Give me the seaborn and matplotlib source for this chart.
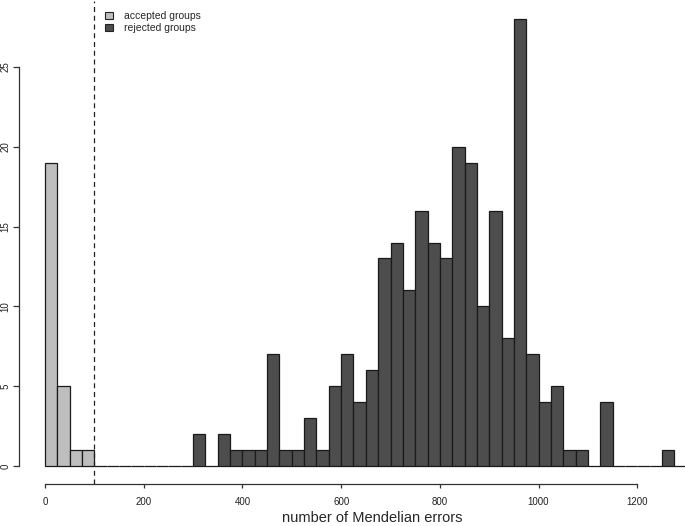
import numpy as np
import pandas as pd
import seaborn as sns
import matplotlib.pyplot as plt
from matplotlib.patches import Patch

# histogram bins of width 25 (left edges), counts
bin_width = 25
accepted_left = [0, 25, 50, 75]
accepted_counts = [19, 5, 1, 1]

rejected_left = [100, 125, 150, 175, 200, 225, 250, 275,
                 300, 325, 350, 375, 400, 425, 450, 475, 500, 525, 550, 575,
                 600, 625, 650, 675, 700, 725, 750, 775, 800, 825, 850, 875,
                 900, 925, 950, 975, 1000, 1025, 1050, 1075, 1100, 1125, 1150,
                 1175, 1200, 1225, 1250, 1275, 1300]
rejected_counts = [0, 0, 0, 0, 0, 0, 0, 0,
                   2, 0, 2, 1, 1, 1, 7, 1, 1, 3, 1, 5,
                   7, 4, 6, 13, 14, 11, 16, 14, 13, 20, 19, 10,
                   16, 8, 28, 7, 4, 5, 1, 1, 0, 4, 0,
                   0, 0, 0, 1, 0, 0]

threshold = 100
xticks = [0, 200, 400, 600, 800, 1000, 1200]
yticks = [0, 5, 10, 15, 20, 25]

sns.set_theme(style="ticks")
plt.rcParams['font.family'] = ['Liberation Sans', 'DejaVu Sans']

fig = plt.figure(figsize=(6.85, 5.26), dpi=100)
ax = fig.add_axes([19/685, 42/526, 706/685, 483/526])

acc = pd.DataFrame({"x": np.array(accepted_left) + bin_width/2, "n": accepted_counts})
rej = pd.DataFrame({"x": np.array(rejected_left) + bin_width/2, "n": rejected_counts})

acc_edges = accepted_left + [accepted_left[-1] + bin_width]
rej_edges = rejected_left + [rejected_left[-1] + bin_width]

sns.histplot(data=acc, x="x", weights="n", bins=acc_edges, color="#bebebe",
             alpha=1, edgecolor="#1a1a1a", linewidth=0.9, ax=ax)
sns.histplot(data=rej, x="x", weights="n", bins=rej_edges, color="#4d4d4d",
             alpha=1, edgecolor="#1a1a1a", linewidth=0.9, ax=ax)

ax.axvline(threshold, color="#222222", lw=0.9, ls=(0, (4, 3)))

ax.set_xlim(-53, 1378)
ax.set_ylim(-1.12, 29.12)
sns.despine(ax=ax)
ax.spines['left'].set_bounds(0, 25)
ax.spines['bottom'].set_bounds(0, 1200)
for s in ['left', 'bottom']:
    ax.spines[s].set_color("#333333")
    ax.spines[s].set_linewidth(0.9)

ax.set_xticks(xticks)
ax.set_yticks(yticks)
ax.set_yticklabels([str(v) for v in yticks], rotation=90, va="center")
ax.tick_params(axis="both", labelsize=7, width=0.9, color="#333333",
               labelcolor="#222222")
ax.tick_params(axis="x", length=3, pad=6.5)
ax.tick_params(axis="y", length=4.0, pad=2.3)
ax.set_xlabel("number of Mendelian errors", fontsize=10.5, va="top")
ax.xaxis.set_label_coords(0.5, -27/483)
ax.set_ylabel("")

handles = [Patch(facecolor="#bebebe", edgecolor="#222222", lw=0.8),
           Patch(facecolor="#4d4d4d", edgecolor="#222222", lw=0.8)]
ax.legend(handles, ["accepted groups", "rejected groups"], loc="upper left",
          bbox_to_anchor=(98/685, 522/526), bbox_transform=fig.transFigure,
          frameon=False, fontsize=7.5, handlelength=0.7, handleheight=0.7,
          handletextpad=1.1, labelspacing=0.2, borderaxespad=0.3)

fig.savefig("out.png", dpi=100)
